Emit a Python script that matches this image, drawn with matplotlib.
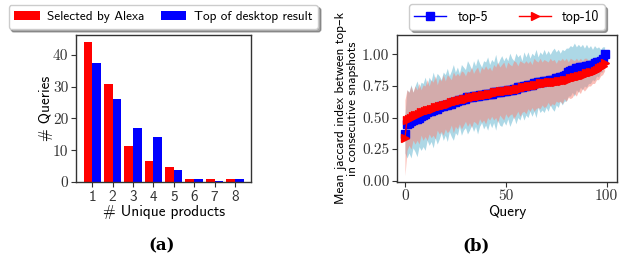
import numpy as np
import matplotlib
matplotlib.use("Agg")
import matplotlib.pyplot as plt

plt.rcParams['font.family'] = ['cmss10', 'DejaVu Sans']
plt.rcParams['axes.unicode_minus'] = False

# (a) number of unique products per query
products = [1, 2, 3, 4, 5, 6, 7, 8]
alexa_counts = [44.1, 30.9, 11.3, 6.6, 4.7, 1.0, 1.0, 1.0]
desktop_counts = [37.5, 26.1, 17.0, 14.2, 3.8, 1.0, 0.2, 1.0]
bar_yticks = [0, 10, 20, 30, 40]

# (b) mean jaccard index per query
query = list(range(100))
top5_mean = [0.37,
             0.45, 0.46, 0.47, 0.48, 0.49, 0.49, 0.50, 0.51, 0.52,
             0.53, 0.54, 0.55, 0.55, 0.56, 0.57, 0.57, 0.58, 0.59, 0.59,
             0.60, 0.60, 0.61, 0.61, 0.62, 0.62, 0.63, 0.64, 0.64, 0.65,
             0.65, 0.66, 0.66, 0.66, 0.67, 0.67, 0.67, 0.68, 0.68, 0.68,
             0.69, 0.69, 0.69, 0.69, 0.70, 0.70, 0.70, 0.70, 0.71, 0.71,
             0.71, 0.72, 0.72, 0.72, 0.73, 0.73, 0.74, 0.74, 0.74, 0.75,
             0.75, 0.76, 0.76, 0.76, 0.77, 0.77, 0.78, 0.78, 0.78, 0.79,
             0.79, 0.79, 0.80, 0.80, 0.80, 0.81, 0.81, 0.82, 0.82, 0.83,
             0.84, 0.86, 0.87, 0.88, 0.88, 0.89, 0.89, 0.90, 0.90, 0.90,
             0.91, 0.91, 0.92, 0.92, 0.93, 0.94, 0.94, 0.95, 0.96, 1.00]
top5_std = [0.15,
            0.27, 0.24, 0.29, 0.22, 0.26, 0.30, 0.23, 0.27, 0.25,
            0.29, 0.22, 0.27, 0.24, 0.30, 0.23, 0.28, 0.25, 0.21, 0.27,
            0.24, 0.29, 0.22, 0.26, 0.30, 0.24, 0.27, 0.21, 0.28, 0.25,
            0.23, 0.29, 0.26, 0.22, 0.28, 0.24, 0.30, 0.25, 0.22, 0.27,
            0.25, 0.29, 0.23, 0.27, 0.24, 0.30, 0.22, 0.26, 0.28, 0.24,
            0.27, 0.23, 0.29, 0.25, 0.22, 0.28, 0.24, 0.26, 0.21, 0.27,
            0.23, 0.26, 0.21, 0.25, 0.22, 0.27, 0.20, 0.24, 0.22, 0.25,
            0.21, 0.24, 0.20, 0.23, 0.25, 0.21, 0.23, 0.19, 0.22, 0.20,
            0.21, 0.19, 0.20, 0.18, 0.21, 0.17, 0.19, 0.16, 0.18, 0.15,
            0.17, 0.14, 0.15, 0.12, 0.14, 0.11, 0.12, 0.09, 0.10, 0.06]
top10_mean = [0.34,
              0.48, 0.49, 0.50, 0.51, 0.52, 0.52, 0.53, 0.54, 0.54,
              0.55, 0.56, 0.56, 0.57, 0.57, 0.58, 0.58, 0.59, 0.59, 0.60,
              0.60, 0.61, 0.61, 0.62, 0.62, 0.63, 0.63, 0.64, 0.64, 0.65,
              0.65, 0.65, 0.66, 0.66, 0.66, 0.67, 0.67, 0.67, 0.68, 0.68,
              0.68, 0.69, 0.69, 0.69, 0.70, 0.70, 0.70, 0.71, 0.71, 0.71,
              0.71, 0.72, 0.72, 0.72, 0.72, 0.73, 0.73, 0.73, 0.74, 0.74,
              0.74, 0.75, 0.75, 0.75, 0.76, 0.76, 0.76, 0.77, 0.77, 0.77,
              0.77, 0.78, 0.78, 0.78, 0.78, 0.78, 0.79, 0.79, 0.79, 0.80,
              0.80, 0.80, 0.81, 0.81, 0.82, 0.82, 0.83, 0.83, 0.84, 0.84,
              0.85, 0.85, 0.86, 0.86, 0.87, 0.88, 0.89, 0.90, 0.91, 0.93]
top10_std = [0.30,
             0.24, 0.21, 0.25, 0.19, 0.23, 0.20, 0.24, 0.18, 0.22,
             0.20, 0.24, 0.19, 0.23, 0.21, 0.25, 0.18, 0.22, 0.20, 0.24,
             0.19, 0.23, 0.21, 0.18, 0.24, 0.20, 0.22, 0.19, 0.23, 0.21,
             0.18, 0.22, 0.20, 0.24, 0.19, 0.21, 0.23, 0.18, 0.22, 0.20,
             0.23, 0.19, 0.21, 0.18, 0.22, 0.20, 0.24, 0.19, 0.21, 0.23,
             0.18, 0.22, 0.20, 0.19, 0.23, 0.21, 0.18, 0.22, 0.20, 0.19,
             0.21, 0.18, 0.20, 0.17, 0.21, 0.19, 0.18, 0.20, 0.17, 0.19,
             0.18, 0.16, 0.19, 0.17, 0.18, 0.15, 0.17, 0.16, 0.18, 0.15,
             0.17, 0.14, 0.16, 0.15, 0.13, 0.15, 0.12, 0.14, 0.11, 0.13,
             0.12, 0.10, 0.11, 0.09, 0.10, 0.08, 0.09, 0.07, 0.07, 0.06]
line_xticks = [0, 50, 100]
line_yticks = [0.00, 0.25, 0.50, 0.75, 1.00]

SERIF = ['cmr10', 'DejaVu Serif']


def sp(s):
    # cmss10 space glyph is odd, use a 1/3-em space instead (falls back to DejaVu)
    return s.replace(' ', '\u2004')


def style_axes(ax, serif_x=True):
    for s in ax.spines.values():
        s.set_color('#333333')
        s.set_linewidth(1.0)
    ax.tick_params(colors='#333333', labelsize=11, length=3.5, width=0.8, pad=2)
    for lab in ax.get_yticklabels():
        lab.set_family(SERIF)
    if serif_x:
        for lab in ax.get_xticklabels():
            lab.set_family(SERIF)


fig = plt.figure(figsize=(6.28, 2.66), dpi=100)

# ---- (a) bars ----
ax1 = fig.add_axes([0.121, 0.316, 0.279, 0.553])
x = np.array(products)
w = 0.425
ax1.bar(x - w / 2, alexa_counts, w, color='red', label=sp('Selected by Alexa'))
ax1.bar(x + w / 2, desktop_counts, w, color='blue', label=sp('Top of desktop result'))
ax1.set_xlim(0.2, 8.8)
ax1.set_ylim(0, 46.3)
ax1.set_xticks(products)
ax1.set_xticklabels([str(p) for p in products])
ax1.set_yticks(bar_yticks)
ax1.set_yticklabels([str(t) for t in bar_yticks])
ax1.set_xlabel(sp('# Unique products'), fontsize=11, labelpad=1)
ax1.set_ylabel(sp('# Queries'), fontsize=11, labelpad=0)
style_axes(ax1, serif_x=False)
fig.legend(*ax1.get_legend_handles_labels(), loc='center', ncol=2,
           bbox_to_anchor=(0.260, 0.936), fontsize=9.5, shadow=True,
           framealpha=1, edgecolor='#cccccc', handlelength=1.9,
           handletextpad=0.6, columnspacing=1.2, borderpad=0.45)

# ---- (b) jaccard lines ----
ax2 = fig.add_axes([0.632, 0.316, 0.350, 0.553])
q = np.array(query)
m5, s5 = np.array(top5_mean), np.array(top5_std)
m10, s10 = np.array(top10_mean), np.array(top10_std)
ax2.fill_between(q, m5 - s5, m5 + s5, color='lightblue', linewidth=0)
ax2.fill_between(q, m10 - s10, m10 + s10, color='salmon', alpha=0.5, linewidth=0)
ax2.plot(q, m5, color='blue', marker='s', markersize=6, linewidth=1, label='top-5')
ax2.plot(q, m10, color='red', marker='>', markersize=6, linewidth=1, label='top-10')
ax2.set_xlim(-4, 105)
ax2.set_ylim(-0.01, 1.155)
ax2.set_xticks(line_xticks)
ax2.set_xticklabels([str(t) for t in line_xticks])
ax2.set_yticks(line_yticks)
ax2.set_yticklabels(['%.2f' % t for t in line_yticks])
ax2.set_xlabel('Query', fontsize=11, labelpad=1)
ax2.set_ylabel(sp('Mean jaccard index between top\u2013k\nin consecutive snapshots'),
               fontsize=9.5, labelpad=2, linespacing=1.0)
style_axes(ax2)
fig.legend(*ax2.get_legend_handles_labels(), loc='center', ncol=2,
           bbox_to_anchor=(0.807, 0.936), fontsize=10, shadow=True,
           framealpha=1, edgecolor='#cccccc', handlelength=2.3,
           handletextpad=0.8, columnspacing=2.2, borderpad=0.4)

fig.text(0.257, 0.075, '(a)', ha='center', va='center', fontsize=12,
         fontweight='bold', family='DejaVu Serif')
fig.text(0.758, 0.075, '(b)', ha='center', va='center', fontsize=12,
         fontweight='bold', family='DejaVu Serif')

fig.savefig('out.png', dpi=100)
